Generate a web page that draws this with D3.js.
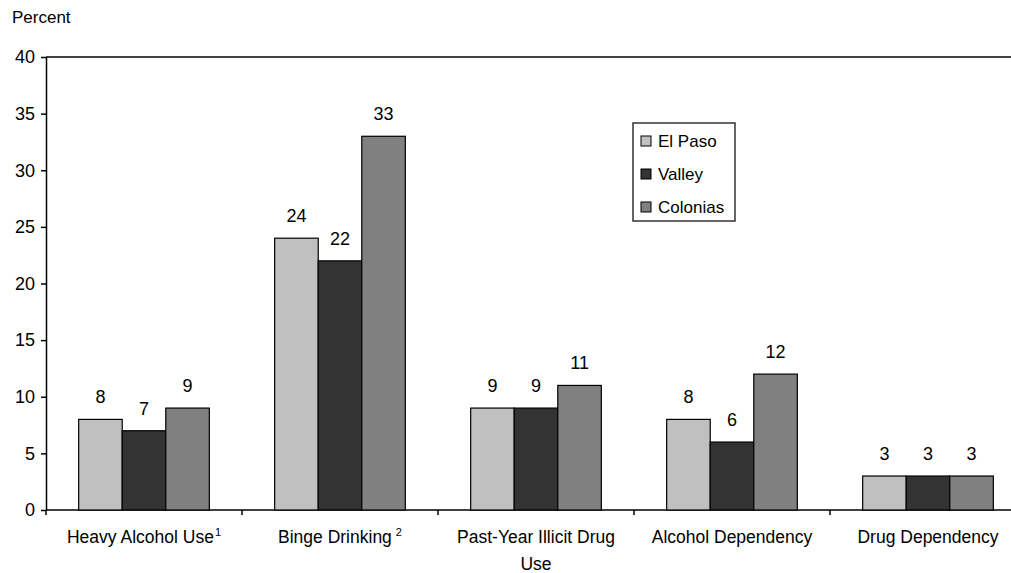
<!DOCTYPE html>
<html lang="en">
<head>
<meta charset="utf-8">
<title>Substance use by region</title>
<script src="https://cdn.jsdelivr.net/npm/d3@7"></script>
<style>
  html, body { margin: 0; padding: 0; background: #fff; }
  svg { font-family: "Liberation Sans", Arial, sans-serif; display: block; }
  .bar { stroke: #000; stroke-width: 1.2; }
  .axis path, .axis line { stroke: #000; stroke-width: 1.5; }
</style>
</head>
<body>
<svg id="chart" width="1011" height="573"></svg>
<script>
// categories and series
var categories = ["Heavy Alcohol Use", "Binge Drinking", "Past-Year Illicit Drug Use", "Alcohol Dependency", "Drug Dependency"];
var catLines = [["Heavy Alcohol Use", "1"], ["Binge Drinking", "2"], ["Past-Year Illicit Drug", "", "Use"], ["Alcohol Dependency", ""], ["Drug Dependency", ""]];
var seriesNames = ["El Paso", "Valley", "Colonias"];
var seriesColors = ["#c0c0c0", "#333333", "#808080"];
var elPaso = [8, 24, 9, 8, 3];
var valley = [7, 22, 9, 6, 3];
var colonias = [9, 33, 11, 12, 3];
var yTicks = [0, 5, 10, 15, 20, 25, 30, 35, 40];

var series = [elPaso, valley, colonias];

var svg = d3.select("#chart");
var plotLeft = 46, plotTop = 57, plotBottom = 510, band = 196;

var x = d3.scaleBand().domain(categories).range([plotLeft, plotLeft + band * categories.length]).paddingInner(0).paddingOuter(0);
var xs = d3.scaleBand().domain(seriesNames).range([0, band]).paddingInner(0).paddingOuter(0.75);
var y = d3.scaleLinear().domain([0, 40]).range([plotBottom, plotTop]);

// top frame line
svg.append("line").attr("x1", plotLeft).attr("x2", 1011).attr("y1", plotTop).attr("y2", plotTop)
  .attr("stroke", "#000").attr("stroke-width", 1.5);

// y axis
var yAxis = svg.append("g").attr("class", "axis")
  .attr("transform", "translate(" + plotLeft + ",0)")
  .call(d3.axisLeft(y).tickValues(yTicks).tickSize(5).tickSizeOuter(0).tickPadding(6));
yAxis.selectAll("text").attr("font-size", 18).attr("fill", "#000").attr("font-family", "Liberation Sans, Arial, sans-serif");

// x axis with ticks at category boundaries
svg.append("line").attr("x1", plotLeft).attr("x2", 1011).attr("y1", plotBottom).attr("y2", plotBottom)
  .attr("stroke", "#000").attr("stroke-width", 1.5);
svg.append("g").selectAll("line").data(d3.range(categories.length + 1)).enter().append("line")
  .attr("x1", function(i) { return plotLeft + i * band; })
  .attr("x2", function(i) { return plotLeft + i * band; })
  .attr("y1", plotBottom).attr("y2", plotBottom + 5)
  .attr("stroke", "#000").attr("stroke-width", 1.5);

// bars
series.forEach(function(vals, si) {
  var g = svg.append("g");
  g.selectAll("rect").data(vals).enter().append("rect")
    .attr("class", "bar")
    .attr("x", function(d, i) { return x(categories[i]) + xs(seriesNames[si]); })
    .attr("y", function(d) { return y(d); })
    .attr("width", xs.bandwidth())
    .attr("height", function(d) { return plotBottom - y(d); })
    .attr("fill", seriesColors[si]);
  g.selectAll("text").data(vals).enter().append("text")
    .attr("x", function(d, i) { return x(categories[i]) + xs(seriesNames[si]) + xs.bandwidth() / 2; })
    .attr("y", function(d) { return y(d) - 16; })
    .attr("text-anchor", "middle").attr("font-size", 18)
    .text(function(d) { return d; });
});

// category labels
categories.forEach(function(c, i) {
  var cx = x(c) + band / 2;
  var t = svg.append("text").attr("x", cx).attr("y", 543).attr("text-anchor", "middle").attr("font-size", 17.5);
  t.append("tspan").text(catLines[i][0]);
  if (catLines[i][1]) {
    t.append("tspan").attr("font-size", 11).attr("dy", -7).attr("dx", i == 1 ? 4 : 1).text(catLines[i][1]);
  }
  if (catLines[i][2]) {
    svg.append("text").attr("x", cx).attr("y", 570).attr("text-anchor", "middle").attr("font-size", 17.5).text(catLines[i][2]);
  }
});

// y title
svg.append("text").attr("x", 12).attr("y", 23).attr("font-size", 17).text("Percent");

// legend
var lg = svg.append("g").attr("transform", "translate(633,123)");
lg.append("rect").attr("width", 102).attr("height", 98).attr("fill", "#fff").attr("stroke", "#000").attr("stroke-width", 1.2);
seriesNames.forEach(function(n, i) {
  lg.append("rect").attr("x", 8).attr("y", 13 + i * 33).attr("width", 10).attr("height", 10)
    .attr("fill", seriesColors[i]).attr("stroke", "#000").attr("stroke-width", 1);
  lg.append("text").attr("x", 25).attr("y", 24 + i * 33).attr("font-size", 17).text(n);
});
</script>
</body>
</html>
